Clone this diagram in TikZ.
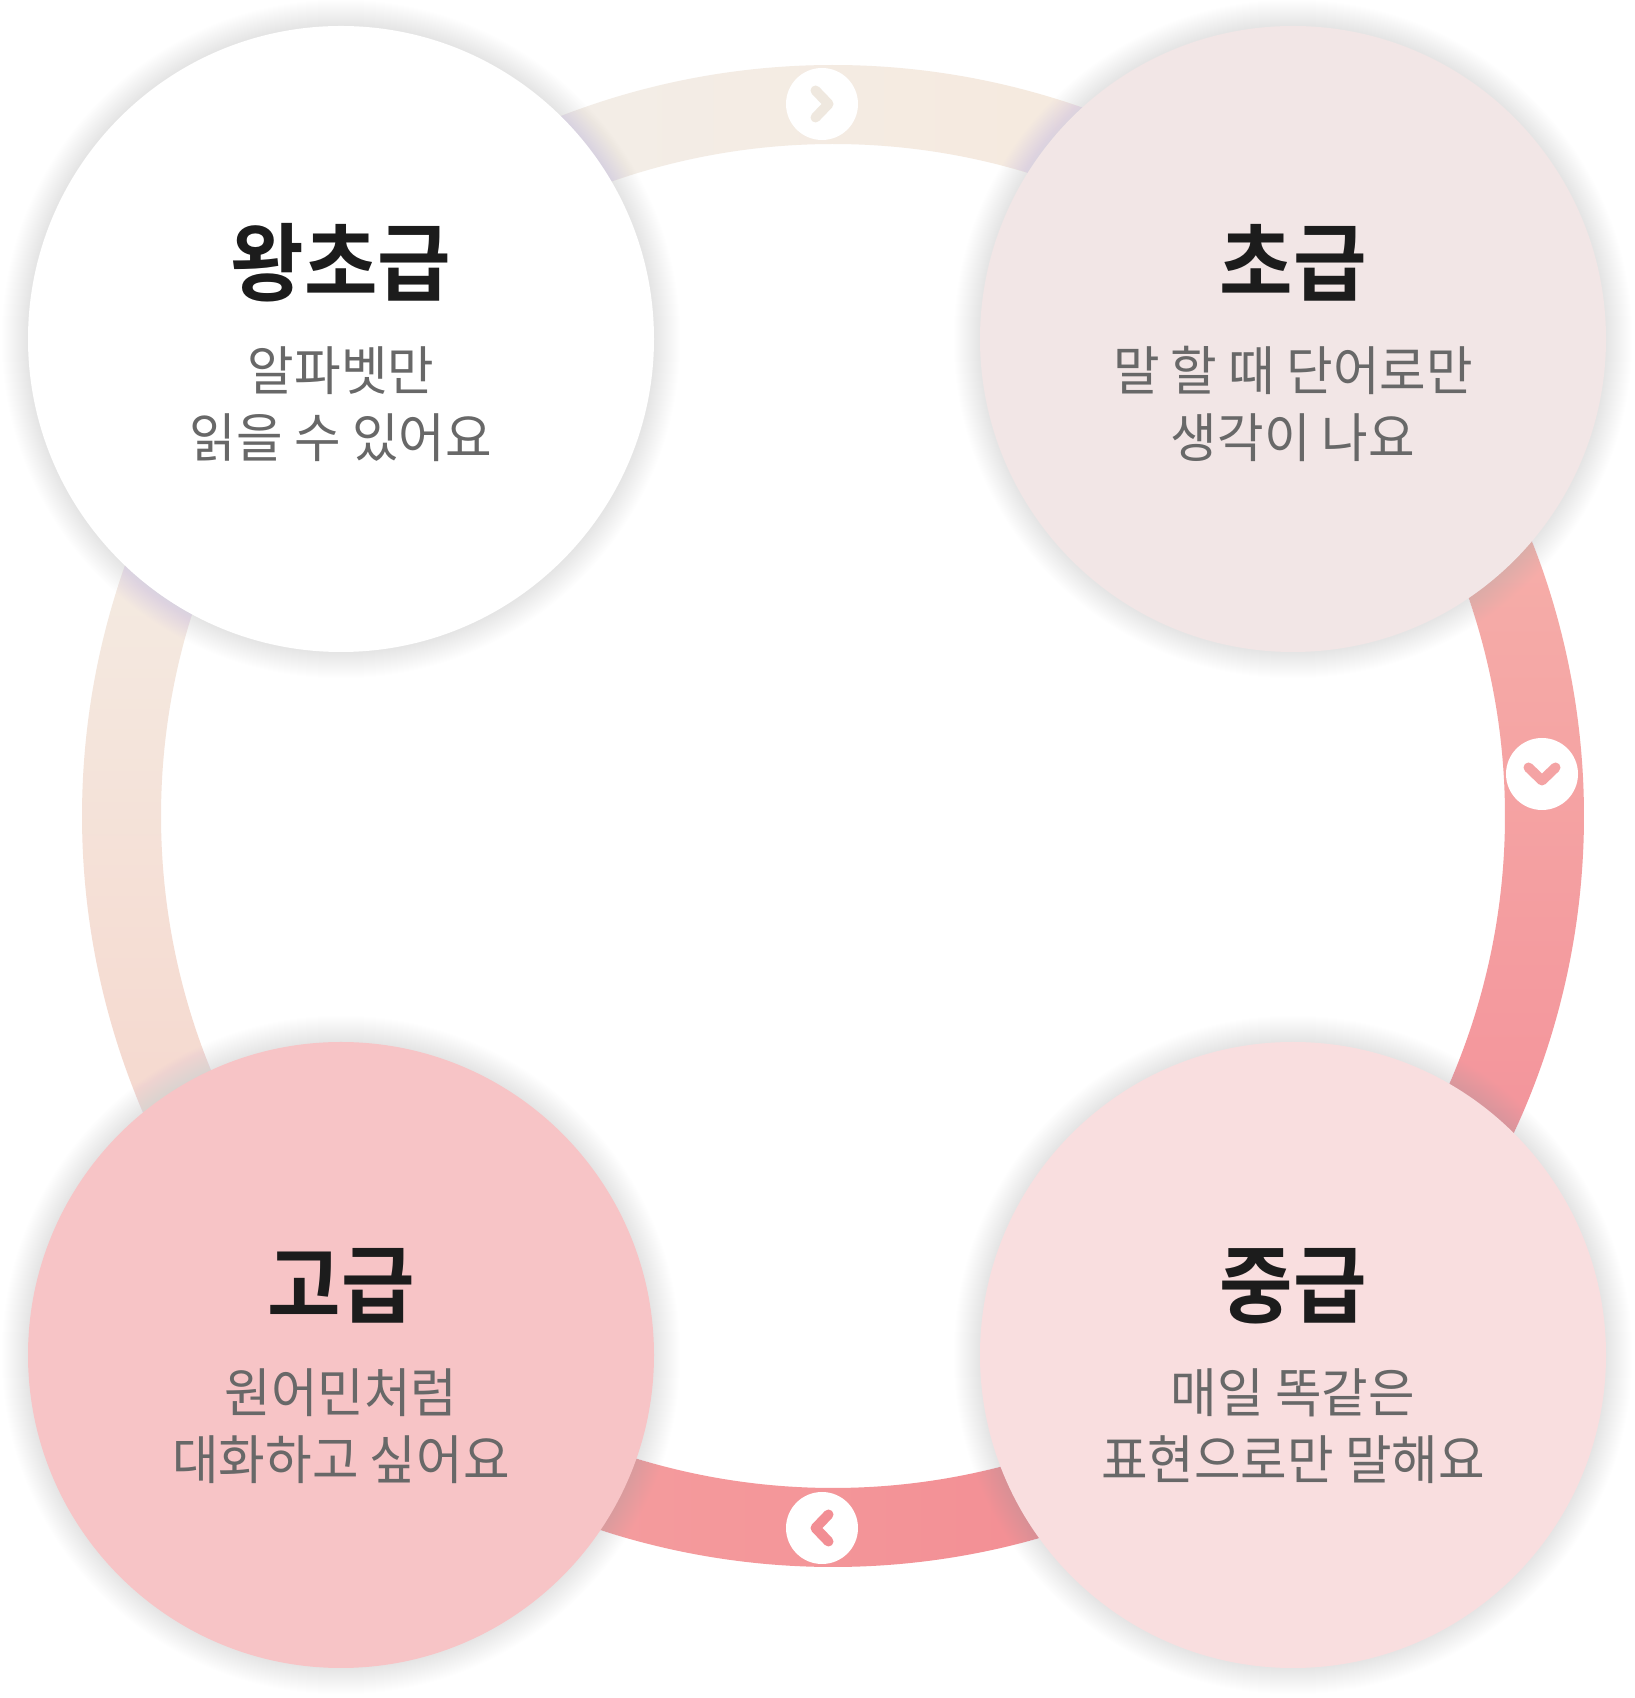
\documentclass[tikz,border=0pt]{standalone}
\usepackage{fontspec}
\usetikzlibrary{calc}
\newfontfamily\krsub{Noto Sans CJK KR}[FakeStretch=0.955]
\newfontfamily\krtitle{Noto Sans CJK KR Bold}[FakeStretch=0.94]
\definecolor{topL}{HTML}{F2EEE9}
\definecolor{topR}{HTML}{F6E9DD}
\definecolor{lfT}{HTML}{F4EDE4}
\definecolor{lfB}{HTML}{F5D6CC}
\definecolor{rtT}{HTML}{F6B0AA}
\definecolor{rtB}{HTML}{F3929A}
\definecolor{btL}{HTML}{F49E9F}
\definecolor{btR}{HTML}{F38D93}
\definecolor{fillA}{HTML}{FFFFFF}
\definecolor{fillB}{HTML}{F2E6E6}
\definecolor{fillC}{HTML}{F9DEDF}
\definecolor{fillD}{HTML}{F7C4C6}
\definecolor{titlec}{HTML}{1C1C1C}
\definecolor{subc}{HTML}{686868}
\definecolor{shadowc}{RGB}{208,211,224}
\definecolor{chevTop}{HTML}{EFE8DF}
\definecolor{chevRight}{HTML}{F4A3A4}
\definecolor{chevBottom}{HTML}{F28E94}
\tikzset{
  stage/.style={circle, minimum size=626pt, inner sep=0pt},
  ttl/.style={anchor=base, inner sep=0pt, text=titlec, font={\krtitle\fontsize{85}{90}\selectfont}},
  subline/.style={anchor=base, inner sep=0pt, text=subc, font={\krsub\fontsize{53}{60}\selectfont}},
  btn/.style={circle, fill=white, minimum size=72pt, inner sep=0pt},
  chev/.style={line width=10pt, line cap=round, line join=round},
}
\begin{document}
\begin{tikzpicture}[x=1pt,y=1pt]
\useasboundingbox (0,0) rectangle (1634,1698);
\fill[white] (0,0) rectangle (1634,1698);
\coordinate (ctr) at (833,882);
% ring arcs
\shade[left color=topL, right color=topR]
  ($(ctr)+(66:751)$) arc[start angle=66, end angle=120, radius=751]
  -- ($(ctr)+(120:672)$) arc[start angle=120, end angle=66, radius=672] -- cycle;
\shade[top color=rtT, bottom color=rtB]
  ($(ctr)+(-30:751)$) arc[start angle=-30, end angle=27, radius=751]
  -- ($(ctr)+(27:672)$) arc[start angle=27, end angle=-30, radius=672] -- cycle;
\shade[left color=btL, right color=btR]
  ($(ctr)+(245:751)$) arc[start angle=245, end angle=292, radius=751]
  -- ($(ctr)+(292:672)$) arc[start angle=292, end angle=245, radius=672] -- cycle;
\shade[top color=lfT, bottom color=lfB]
  ($(ctr)+(153:751)$) arc[start angle=153, end angle=210, radius=751]
  -- ($(ctr)+(210:672)$) arc[start angle=210, end angle=153, radius=672] -- cycle;
% arrow buttons
\node[btn] (btop) at (822,1594) {};
\node[btn] (bright) at (1542,924) {};
\node[btn] (bbottom) at (822,170) {};
\draw[chev, draw=chevTop] ([shift={(-6.5,13.5)}]btop.center) -- ([shift={(6.5,0)}]btop.center) -- ([shift={(-6.5,-13.5)}]btop.center);
\draw[chev, draw=chevRight] ([shift={(-13.5,6.5)}]bright.center) -- ([shift={(0,-6.5)}]bright.center) -- ([shift={(13.5,6.5)}]bright.center);
\draw[chev, draw=chevBottom] ([shift={(6.5,13.5)}]bbottom.center) -- ([shift={(-6.5,0)}]bbottom.center) -- ([shift={(6.5,-13.5)}]bbottom.center);
% shadows
\foreach \cx/\cy in {341/1359, 1293/1359, 341/343, 1293/343}{
  \foreach \k in {1,...,26}{
    \fill[shadowc, opacity=0.013] (\cx,\cy) circle[radius=313+\k];
  }
}
% stage circles
\node[stage, fill=fillA] (tl) at (341,1359) {};
\node[stage, fill=fillB] (tr) at (1293,1359) {};
\node[stage, fill=fillC] (br) at (1293,343) {};
\node[stage, fill=fillD] (bl) at (341,343) {};
% texts
\node[ttl] (tlT) at ($(tl.center)+(0,44)$) {왕초급};
\node[subline] (tlA) at ($(tl.center)+(0,-52)$) {알파벳만};
\node[subline] (tlB) at ($(tl.center)+(0,-119)$) {읽을 수 있어요};
\node[ttl] (trT) at ($(tr.center)+(0,44)$) {초급};
\node[subline] (trA) at ($(tr.center)+(0,-52)$) {말 할 때 단어로만};
\node[subline] (trB) at ($(tr.center)+(0,-119)$) {생각이 나요};
\node[ttl] (blT) at ($(bl.center)+(0,38)$) {고급};
\node[subline] (blA) at ($(bl.center)+(0,-58)$) {원어민처럼};
\node[subline] (blB) at ($(bl.center)+(0,-125)$) {대화하고 싶어요};
\node[ttl] (brT) at ($(br.center)+(0,38)$) {중급};
\node[subline] (brA) at ($(br.center)+(0,-58)$) {매일 똑같은};
\node[subline] (brB) at ($(br.center)+(0,-125)$) {표현으로만 말해요};
\end{tikzpicture}
\end{document}
